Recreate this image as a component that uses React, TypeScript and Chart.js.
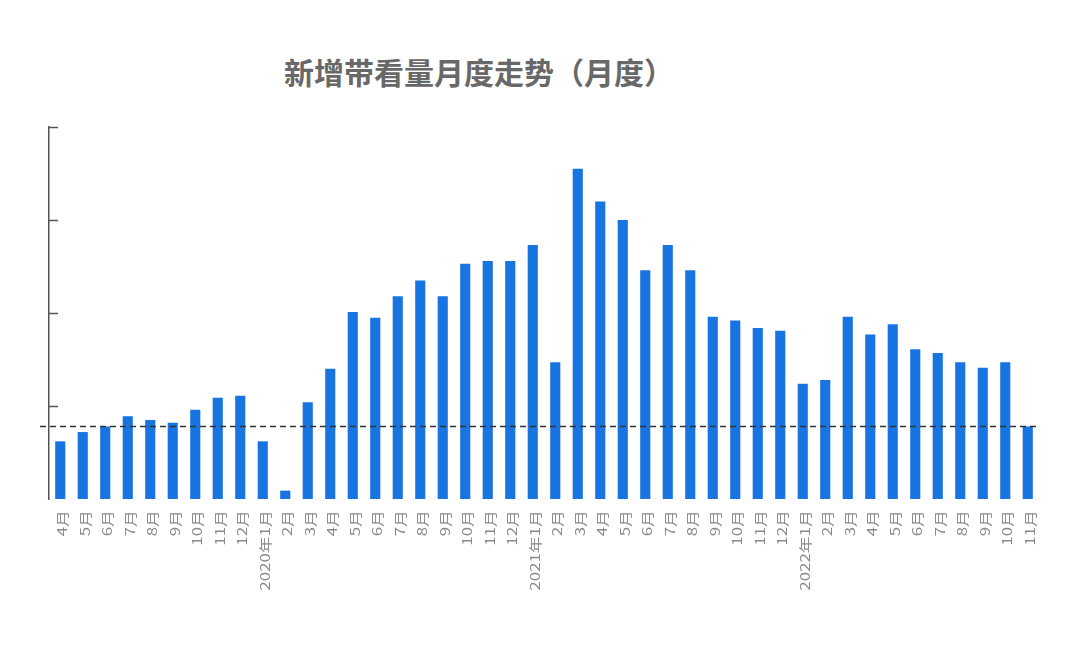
import React, { useEffect, useRef } from "react";
import { Chart, registerables } from "chart.js";

Chart.register(...registerables);

const TITLE = "新增带看量月度走势（月度）";

const categories: string[] = [
  "4月", "5月", "6月", "7月", "8月", "9月", "10月", "11月", "12月",
  "2020年1月", "2月", "3月", "4月", "5月", "6月", "7月", "8月", "9月", "10月", "11月", "12月",
  "2021年1月", "2月", "3月", "4月", "5月", "6月", "7月", "8月", "9月", "10月", "11月", "12月",
  "2022年1月", "2月", "3月", "4月", "5月", "6月", "7月", "8月", "9月", "10月", "11月",
];

const values: number[] = [
  62, 72, 78, 89, 85, 82, 96, 109, 111,
  62, 9, 104, 140, 201, 195, 218, 235, 218, 253, 256, 256,
  273, 147, 355, 320, 300, 246, 273, 246, 196, 192, 184, 181,
  124, 128, 196, 177, 188, 161, 157, 147, 141, 147, 78,
];

const yTicks: number[] = [100, 200, 300, 400];
const referenceLine = 78.5;

const BAR_COLOR = "#1874e0";

const overlayPlugin = {
  id: "overlay",
  afterDatasetsDraw(chart: any) {
    const { ctx, chartArea, scales } = chart;
    const x = scales.x;
    const y = scales.y;
    ctx.save();
    // inward ticks on the y axis
    ctx.strokeStyle = "#555555";
    ctx.lineWidth = 1.5;
    yTicks.forEach((v) => {
      const py = Math.round(y.getPixelForValue(v)) + 0.5;
      ctx.beginPath();
      ctx.moveTo(chartArea.left, py);
      ctx.lineTo(chartArea.left + 9, py);
      ctx.stroke();
    });
    // dashed reference line
    const ry = Math.round(y.getPixelForValue(referenceLine)) + 0.5;
    ctx.strokeStyle = "#333333";
    ctx.lineWidth = 1.3;
    ctx.setLineDash([6, 4]);
    ctx.beginPath();
    ctx.moveTo(chartArea.left - 9, ry);
    ctx.lineTo(chartArea.right - 1, ry);
    ctx.stroke();
    ctx.setLineDash([]);
    // rotated category labels
    ctx.fillStyle = "#8a8a8a";
    ctx.font = '13px "Noto Sans CJK SC", "Noto Sans", sans-serif';
    ctx.textAlign = "right";
    ctx.textBaseline = "middle";
    categories.forEach((label, i) => {
      const px = x.getPixelForValue(i) + 2;
      ctx.save();
      ctx.translate(px, chartArea.bottom + 11);
      ctx.rotate(-Math.PI / 2);
      ctx.scale(1.3, 1);
      ctx.fillText(label, 0, 0);
      ctx.restore();
    });
    ctx.restore();
  },
};

export default function App() {
  const canvasRef = useRef<HTMLCanvasElement | null>(null);

  useEffect(() => {
    const canvas = canvasRef.current;
    if (!canvas) return;
    const chart = new Chart(canvas, {
      type: "bar",
      data: {
        labels: categories,
        datasets: [
          {
            data: values,
            backgroundColor: BAR_COLOR,
            borderWidth: 0,
            barPercentage: 0.9,
            categoryPercentage: 0.5,
          },
        ],
      },
      options: {
        animation: false,
        responsive: false,
        devicePixelRatio: 1,
        layout: { padding: { left: 0, top: 127, right: 41, bottom: 0 } },
        plugins: {
          legend: { display: false },
          title: { display: false },
          tooltip: { enabled: false },
        },
        scales: {
          x: {
            grid: { display: false },
            border: { display: false },
            ticks: { display: false },
            afterFit: (scale: any) => {
              scale.height = 154;
            },
          },
          y: {
            min: 0,
            max: 400,
            ticks: { display: false, stepSize: 100 },
            grid: { display: false },
            border: { display: true, color: "#555555", width: 1.5 },
            afterFit: (scale: any) => {
              scale.width = 49;
            },
          },
        },
      },
      plugins: [overlayPlugin],
    });
    return () => chart.destroy();
  }, []);

  return (
    <div style={{ position: "absolute", left: 0, top: 0, width: 1080, height: 653, background: "#ffffff" }}>
      <div
        style={{
          position: "absolute",
          left: 284,
          top: 55,
          fontFamily: '"Noto Sans CJK SC", sans-serif',
          fontSize: 30,
          fontWeight: 700,
          lineHeight: "32px",
          color: "#686868",
          whiteSpace: "nowrap",
        }}
      >
        {TITLE}
      </div>
      <canvas ref={canvasRef} width={1080} height={653} style={{ position: "absolute", left: 0, top: 0 }} />
    </div>
  );
}
